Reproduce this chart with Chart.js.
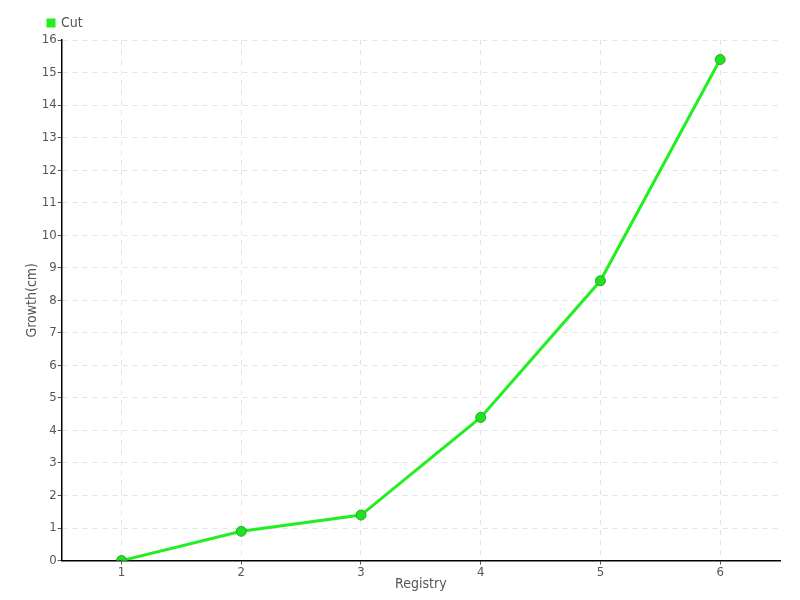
<!DOCTYPE html>
<html lang="en">
<head>
    <meta charset="UTF-8">
    <title>Growth chart</title>
    <script src="https://cdn.jsdelivr.net/npm/chart.js"></script>
    <style>
        html, body { margin: 0; padding: 0; background: #fff; }
        #wrap { width: 800px; height: 600px; }
    </style>
</head>
<body>
<div id="wrap"><canvas id="growthChart"></canvas></div>
<script>
    const registry = ['1', '2', '3', '4', '5', '6'];
    const cutGrowth = [0, 0.9, 1.4, 4.4, 8.6, 15.4];

    Chart.defaults.font.family = "'Liberation Sans Narrow', 'DejaVu Sans Condensed', 'DejaVu Sans', sans-serif";
    Chart.defaults.font.size = 13;
    Chart.defaults.color = '#555';

    const ctx = document.getElementById('growthChart').getContext('2d');
    new Chart(ctx, {
        type: 'line',
        data: {
            labels: registry,
            datasets: [{
                label: 'Cut',
                data: cutGrowth,
                borderColor: '#22ee22',
                backgroundColor: '#22ee22',
                borderWidth: 3,
                pointRadius: 5,
                pointBackgroundColor: '#22e022',
                pointBorderColor: '#1cae1c',
                pointBorderWidth: 1,
                tension: 0
            }]
        },
        options: {
            responsive: true,
            maintainAspectRatio: false,
            animation: false,
            layout: { padding: { left: 0, right: 20, top: 12, bottom: 7 } },
            plugins: {
                legend: {
                    align: 'start',
                    labels: {
                        boxWidth: 6,
                        boxHeight: 6,
                        padding: 4,
                        color: '#555',
                        font: { size: 14 }
                    }
                },
                tooltip: { enabled: false }
            },
            scales: {
                x: {
                    offset: true,
                    title: { display: true, text: 'Registry', color: '#555', padding: { top: -4, bottom: 0 }, font: { size: 14 } },
                    grid: {
                        offset: false,
                        color: '#e4e4e4',
                        tickColor: '#555',
                        tickLength: 4
                    },
                    border: { color: '#000', width: 1.5, dash: [5, 5] },
                    ticks: { padding: 0, font: { size: 13 } }
                },
                y: {
                    min: 0,
                    max: 16,
                    title: { display: true, text: 'Growth(cm)', color: '#555', padding: { top: 24, bottom: 0 }, font: { size: 14 } },
                    grid: {
                        color: '#e4e4e4',
                        tickColor: '#555',
                        tickLength: 4
                    },
                    border: { color: '#000', width: 1.5, dash: [5, 5] },
                    ticks: { stepSize: 1, padding: 1, font: { size: 13 } }
                }
            }
        },
        plugins: [{
            // shift the legend to sit over the y axis like the reference
            id: 'legendShift',
            beforeDraw(chart) {
                if (chart.legend) chart.legend.left = 44;
            }
        }]
    });
</script>
</body>
</html>
